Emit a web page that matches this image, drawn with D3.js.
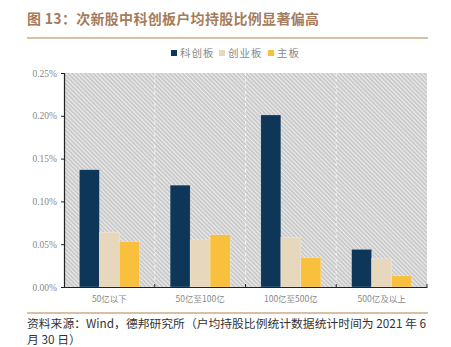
<!DOCTYPE html>
<html><head><meta charset="utf-8">
<script src="https://cdn.jsdelivr.net/npm/d3@7"></script>
<style>body{margin:0;background:#fff}svg{display:block}</style>
</head><body>
<script>
const categories = ["50亿以下", "50亿至100亿", "100亿至500亿", "500亿及以上"];
const seriesNames = ["科创板", "创业板", "主板"];
const kcb = [0.137, 0.119, 0.201, 0.044];
const cyb = [0.064, 0.055, 0.058, 0.033];
const zb  = [0.053, 0.061, 0.034, 0.013];
const yTicks = [0, 0.05, 0.10, 0.15, 0.20, 0.25];
const colors = ["#0e3658", "#e6d7bd", "#f8c03c"];
const seriesValues = [kcb, cyb, zb];

const W = 451, H = 347;
const svg = d3.select("body").append("svg").attr("width", W).attr("height", H);
const defs = svg.append("defs");
const pat = defs.append("pattern").attr("id","hatch").attr("patternUnits","userSpaceOnUse")
  .attr("width",3).attr("height",3).attr("patternTransform","rotate(-45)");
pat.append("rect").attr("width",3).attr("height",3).attr("fill","#c6c6c6");
pat.append("rect").attr("width",1.3).attr("height",3).attr("fill","#ebebeb");

const m = {l:64, r:427, t:73, b:287};
const x = d3.scaleBand().domain(categories).range([m.l, m.r]).paddingInner(0).paddingOuter(0);
const y = d3.scaleLinear().domain([0, 0.25]).range([m.b, m.t]);

// title
svg.append("text").attr("x",27).attr("y",24)
  .attr("font-family","'Noto Sans CJK SC'").attr("font-weight","bold").attr("font-size",14)
  .attr("letter-spacing",0.3).attr("fill","#a47c5c").text("图 13：次新股中科创板户均持股比例显著偏高");
svg.append("line").attr("x1",27).attr("x2",428).attr("y1",38).attr("y2",38)
  .attr("stroke","#b5804f").attr("stroke-width",1.2);

// plot bg
svg.append("rect").attr("x",m.l).attr("y",m.t).attr("width",m.r-m.l).attr("height",m.b-m.t).attr("fill","url(#hatch)");

// dashed vertical separators
const bounds = categories.slice(1).map(c => x(c));
svg.append("g").selectAll("line").data(bounds).join("line")
  .attr("x1",d=>d).attr("x2",d=>d).attr("y1",m.t).attr("y2",m.b)
  .attr("stroke","#f4f4f4").attr("stroke-width",1).attr("stroke-dasharray","3,3");

// bars
const x1 = d3.scaleBand().domain(seriesNames).range([0, 60]);
const bw = 60;
seriesValues.forEach((vals, si) => {
  svg.append("g").selectAll("rect").data(vals).join("rect")
    .attr("x",(d,i)=> x(categories[i]) + (x.bandwidth()-bw)/2 + x1(seriesNames[si]))
    .attr("width", x1.bandwidth())
    .attr("y", d=>y(d)).attr("height", d=>y(0)-y(d))
    .attr("fill", colors[si]).attr("stroke","#ffffff").attr("stroke-width",0.4).attr("stroke-opacity",0.6);
});

// axes
const yAxis = d3.axisLeft(y).tickValues(yTicks).tickFormat(d=>d.toFixed(2)+"%").tickSize(3).tickPadding(4);
const gy = svg.append("g").attr("transform",`translate(${m.l},0)`).call(yAxis);
gy.select(".domain").attr("stroke","#222").attr("stroke-width",1.2);
gy.selectAll(".tick line").attr("stroke","#222");
gy.selectAll("text").attr("font-family","'Liberation Serif'").attr("font-size",9.5).attr("fill","#888");

const xAxis = d3.axisBottom(x).tickSize(0).tickPadding(9);
const gx = svg.append("g").attr("transform",`translate(0,${m.b})`).call(xAxis);
gx.select(".domain").attr("stroke","#222").attr("stroke-width",1.2);
gx.selectAll("text").attr("font-family","'Noto Sans CJK SC'").attr("font-size",8.5).attr("fill","#888");
// small upward ticks at category boundaries
svg.append("g").selectAll("line").data(categories.map(c=>x(c)+x.bandwidth())).join("line")
  .attr("x1",d=>d).attr("x2",d=>d).attr("y1",m.b).attr("y2",m.b-3).attr("stroke","#222");

// legend
const lg = svg.append("g").attr("transform","translate(171,54)");
const lx = [0, 48, 97];
seriesNames.forEach((n,i)=>{
  lg.append("rect").attr("x",lx[i]).attr("y",-4).attr("width",6).attr("height",6).attr("fill",colors[i]);
  lg.append("text").attr("x",lx[i]+9).attr("y",3).attr("font-family","'Noto Sans CJK SC'")
    .attr("font-size",10.5).attr("letter-spacing",1).attr("fill","#888").text(n);
});

// footer
svg.append("line").attr("x1",27).attr("x2",428).attr("y1",313).attr("y2",313)
  .attr("stroke","#b5804f").attr("stroke-width",1.2);
svg.append("text").attr("x",27).attr("y",328).attr("font-family","'Noto Sans CJK SC'")
  .attr("font-size",11.8).attr("fill","#333").text("资料来源：Wind，德邦研究所（户均持股比例统计数据统计时间为 2021 年 6");
svg.append("text").attr("x",27).attr("y",344).attr("font-family","'Noto Sans CJK SC'")
  .attr("font-size",11.8).attr("fill","#333").text("月 30 日）");
</script>
</body></html>
